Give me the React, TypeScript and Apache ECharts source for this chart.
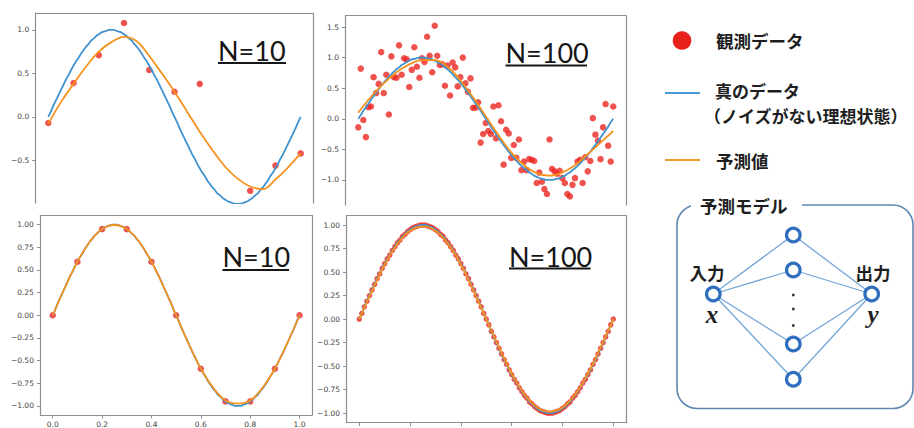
import React, { useEffect, useRef } from "react";
import * as echarts from "echarts";

// ---- sampling grids (x positions) ----
const xGrid101 = Array.from({ length: 101 }, (_, i) => i / 100);
const xGrid21 = Array.from({ length: 21 }, (_, i) => i / 20);
const xGrid11 = Array.from({ length: 11 }, (_, i) => i / 10);

// ---- true data (no noise), read at step 0.01 ----
const trueCurve = [
  0, 0.06, 0.13, 0.19, 0.25, 0.31, 0.37, 0.43, 0.48, 0.54, 0.59, 0.64, 0.68, 0.73, 0.77, 0.81, 0.84, 0.88, 0.9, 0.93, 0.95,
  0.97, 0.98, 0.99, 1.0, 1.0, 1.0, 0.99, 0.98, 0.97, 0.95, 0.93, 0.9, 0.88, 0.84, 0.81, 0.77, 0.73, 0.68, 0.64, 0.59,
  0.54, 0.48, 0.43, 0.37, 0.31, 0.25, 0.19, 0.13, 0.06, 0,
  -0.06, -0.13, -0.19, -0.25, -0.31, -0.37, -0.43, -0.48, -0.54, -0.59, -0.64, -0.68, -0.73, -0.77, -0.81, -0.84, -0.88,
  -0.9, -0.93, -0.95, -0.97, -0.98, -0.99, -1.0, -1.0, -1.0, -0.99, -0.98, -0.97, -0.95, -0.93, -0.9, -0.88, -0.84, -0.81,
  -0.77, -0.73, -0.68, -0.64, -0.59, -0.54, -0.48, -0.43, -0.37, -0.31, -0.25, -0.19, -0.13, -0.06, 0,
];

// ---- top-left: N=10, noisy ----
const observedN10Noisy = [-0.07, 0.39, 0.71, 1.08, 0.54, 0.29, 0.38, -1.12, -0.85, -0.56, -0.42];
const predictedN10Noisy = [
  -0.08, 0.17, 0.38, 0.58, 0.75, 0.86, 0.92, 0.87, 0.7, 0.5, 0.29, 0.06, -0.17, -0.38, -0.57, -0.71, -0.8, -0.83, -0.72,
  -0.58, -0.42,
];

// ---- top-right: N=100, noisy ----
const observedN100Noisy = [
  -0.14, 0.82, -0.02, -0.3, 0.19, 0.2, 0.68, 0.42, 0.57, 1.09, 0.42, 0.72, 0.07, 1.02, 0.68, 0.67, 1.2, 0.72, 0.99, 0.97,
  0.52, 0.8, 1.17, 0.85, 0.67, 0.99, 0.93, 1.34, 1.03, 0.76, 1.52, 1.03, 0.88, 0.89, 0.54, 0.87, 0.38, 0.92, 0.84, 0.53,
  0.68, 1.0, 0.58, 0.44, 0.66, 0.18, 0.18, 0.27, -0.39, -0.25, -0.07, -0.2, -0.25, 0.2, -0.32, 0.22, -0.04, -0.75, -0.18,
  -0.24, -0.64, -0.43, -0.64, -0.34, -0.84, -0.7, -0.84, -0.66, -0.67, -0.69, -1.05, -0.88, -1.03, -1.15, -1.23, -0.34,
  -0.82, -0.86, -0.9, -0.85, -0.97, -1.05, -1.23, -1.27, -1.08, -0.97, -0.7, -0.67, -1.05, -0.63, -0.86, -0.69, 0.01,
  -0.26, -0.36, -0.66, -0.14, 0.24, -0.44, -0.7, 0.2,
];
const predictedN100Noisy = [
  0.1, 0.36, 0.58, 0.76, 0.89, 0.96, 0.96, 0.85, 0.63, 0.35, 0.04, -0.27, -0.55, -0.76, -0.89, -0.93, -0.88, -0.76, -0.58,
  -0.39, -0.2,
];

// ---- bottom-left: N=10, noise-free ----
const observedN10Clean = [0, 0.59, 0.95, 0.95, 0.59, 0, -0.59, -0.95, -0.95, -0.59, 0];
const predictedN10Clean = [
  0, 0.31, 0.59, 0.81, 0.95, 0.995, 0.95, 0.81, 0.59, 0.31, 0, -0.31, -0.59, -0.8, -0.94, -0.975, -0.94, -0.8, -0.59, -0.31,
  0,
];

// ---- bottom-right: N=100, noise-free ----
const observedN100Clean = trueCurve;
const predictedN100Clean = [
  0, 0.3, 0.58, 0.8, 0.94, 0.985, 0.94, 0.8, 0.58, 0.3, 0, -0.3, -0.58, -0.8, -0.94, -0.985, -0.94, -0.8, -0.58, -0.3, 0,
];

// ---- tick labels ----
const xTickValues = [0, 0.2, 0.4, 0.6, 0.8, 1.0];
const yTicksTopLeft = [-0.5, 0, 0.5, 1.0];
const yTicksTopRight = [-1.0, -0.5, 0, 0.5, 1.0, 1.5];
const yTicksBottom = [-1.0, -0.75, -0.5, -0.25, 0, 0.25, 0.5, 0.75, 1.0];

const panelTitles = ["N=10", "N=100", "N=10", "N=100"];
const legendLabels = ["観測データ", "真のデータ", "（ノイズがない理想状態）", "予測値"];
const modelTitle = "予測モデル";

const RED = "#ec2722";
const BLUE = "#3f92cf";
const ORANGE = "#f6921e";
const AXIS = "#8f8f8f";

const pairs = (xs: number[], ys: number[]) => xs.map((x, i) => [x, ys[i]]);
const fmt = (dec: number) => (v: number) => (v < 0 ? "\u2212" : "") + Math.abs(v).toFixed(dec);

type Panel = {
  left: number; top: number; width: number; height: number;
  yMin: number; yMax: number; yTicks: number[]; dec: number;
  cut: boolean; xLabels: boolean; xTicks: boolean;
  obs: number[][]; truth: number[][]; pred: number[][]; dot: number;
};

const panels: Panel[] = [
  { left: 35.7, top: 13, width: 277.6, height: 190, yMin: -0.99, yMax: 1.195, yTicks: yTicksTopLeft, dec: 1,
    cut: true, xLabels: false, xTicks: false,
    obs: pairs(xGrid11, observedN10Noisy), truth: pairs(xGrid101, trueCurve), pred: pairs(xGrid21, predictedN10Noisy), dot: 6.5 },
  { left: 345.5, top: 15.7, width: 280.5, height: 189.3, yMin: -1.41, yMax: 1.685, yTicks: yTicksTopRight, dec: 1,
    cut: true, xLabels: false, xTicks: false,
    obs: pairs(xGrid101, observedN100Noisy), truth: pairs(xGrid101, trueCurve), pred: pairs(xGrid21, predictedN100Noisy), dot: 6.5 },
  { left: 40.4, top: 215.5, width: 271.5, height: 201.3, yMin: -1.1, yMax: 1.1, yTicks: yTicksBottom, dec: 2,
    cut: false, xLabels: true, xTicks: true,
    obs: pairs(xGrid11, observedN10Clean), truth: pairs(xGrid101, trueCurve), pred: pairs(xGrid21, predictedN10Clean), dot: 6.5 },
  { left: 346.6, top: 215.6, width: 279.4, height: 207, yMin: -1.1, yMax: 1.1, yTicks: yTicksBottom, dec: 2,
    cut: false, xLabels: false, xTicks: true,
    obs: pairs(xGrid101, observedN100Clean), truth: pairs(xGrid101, trueCurve), pred: pairs(xGrid21, predictedN100Clean), dot: 5.5 },
];

const labelFont = { fontSize: 7.5, color: "#454545", fontFamily: "DejaVu Sans" };

function buildOption() {
  const grid: any[] = [];
  const xAxis: any[] = [];
  const yAxis: any[] = [];
  const series: any[] = [];
  panels.forEach((p, i) => {
    grid.push({ left: p.left, top: p.top, width: p.width, height: p.height });
    const line = { onZero: false, lineStyle: { color: AXIS, width: 1.2 } };
    xAxis.push({
      type: "value", gridIndex: i, min: -0.05, max: 1.05, position: "bottom",
      axisLine: { show: !p.cut, ...line },
      axisTick: { show: p.xTicks, customValues: xTickValues, length: 3.5, lineStyle: { color: AXIS } },
      axisLabel: { show: p.xLabels, customValues: xTickValues, formatter: fmt(1), margin: 5, ...labelFont },
      splitLine: { show: false },
    });
    xAxis.push({
      type: "value", gridIndex: i, min: -0.05, max: 1.05, position: "top",
      axisLine: { show: true, ...line }, axisTick: { show: false }, axisLabel: { show: false }, splitLine: { show: false },
    });
    yAxis.push({
      type: "value", gridIndex: i, min: p.yMin, max: p.yMax, position: "left",
      axisLine: { show: true, ...line },
      axisTick: { show: true, customValues: p.yTicks, length: 3.5, lineStyle: { color: AXIS } },
      axisLabel: { show: true, customValues: p.yTicks, formatter: fmt(p.dec), margin: 6.5, ...labelFont },
      splitLine: { show: false },
    });
    yAxis.push({
      type: "value", gridIndex: i, min: p.yMin, max: p.yMax, position: "right",
      axisLine: { show: true, ...line }, axisTick: { show: false }, axisLabel: { show: false }, splitLine: { show: false },
    });
    series.push({
      type: "scatter", xAxisIndex: 2 * i, yAxisIndex: 2 * i, data: p.obs, symbolSize: p.dot,
      itemStyle: { color: RED }, clip: true, z: 2,
    });
    series.push({
      type: "line", xAxisIndex: 2 * i, yAxisIndex: 2 * i, data: p.truth, showSymbol: false, smooth: 0.3,
      lineStyle: { color: BLUE, width: 1.8 }, clip: true, z: 3,
    });
    series.push({
      type: "line", xAxisIndex: 2 * i, yAxisIndex: 2 * i, data: p.pred, showSymbol: false, smooth: 0.4,
      lineStyle: { color: ORANGE, width: 1.8 }, clip: true, z: 4,
    });
  });

  // panel titles "N=.." with underline
  const titlePos = [
    { x: 218, y: 50, ux2: 286, uy: 63 },
    { x: 505.5, y: 52, ux2: 587, uy: 65.5 },
    { x: 222.5, y: 256.5, ux2: 289, uy: 270 },
    { x: 509, y: 256.5, ux2: 590.5, uy: 268.5 },
  ];
  const graphic: any[] = [];
  titlePos.forEach((t, i) => {
    graphic.push({
      type: "text", x: t.x, y: t.y,
      style: { text: panelTitles[i], fontSize: 27, fontFamily: "Lato", fill: "#161616", align: "left", verticalAlign: "middle" },
    });
    graphic.push({ type: "line", shape: { x1: t.x, y1: t.uy, x2: t.ux2, y2: t.uy }, style: { stroke: "#161616", lineWidth: 2 } });
  });

  // legend
  const jp = { fontFamily: "Noto Sans CJK JP", fontWeight: "bold", fill: "#1e1e1e", fontSize: 17.5, align: "left", verticalAlign: "middle" };
  graphic.push({ type: "circle", shape: { cx: 682, cy: 40.5, r: 9.3 }, style: { fill: "#e8211d" } });
  graphic.push({ type: "text", x: 716, y: 40.5, style: { text: legendLabels[0], ...jp } });
  graphic.push({ type: "line", shape: { x1: 665, y1: 93, x2: 700, y2: 93 }, style: { stroke: "#4a9ad6", lineWidth: 2 } });
  graphic.push({ type: "text", x: 715, y: 90, style: { text: legendLabels[1], ...jp, fontSize: 17 } });
  graphic.push({ type: "text", x: 704, y: 115, style: { text: legendLabels[2], ...jp, fontSize: 17 } });
  graphic.push({ type: "line", shape: { x1: 665, y1: 160, x2: 700, y2: 160 }, style: { stroke: "#f59a2e", lineWidth: 2 } });
  graphic.push({ type: "text", x: 716, y: 160, style: { text: legendLabels[3], ...jp } });

  // model diagram
  graphic.push({
    type: "rect", z: 1, shape: { x: 677, y: 205, width: 236, height: 203.5, r: 20 },
    style: { fill: "rgba(0,0,0,0)", stroke: "#5f86b0", lineWidth: 1.6 },
  });
  graphic.push({ type: "rect", z: 2, shape: { x: 691, y: 196, width: 111, height: 18 }, style: { fill: "#ffffff" } });
  graphic.push({ type: "text", z: 3, x: 700, y: 205, style: { text: modelTitle, ...jp } });

  const inNode = { x: 713.3, y: 294 };
  const outNode = { x: 871.7, y: 294 };
  const hidden = [235, 270, 344, 379.3].map((y) => ({ x: 793.3, y }));
  const edge = { stroke: "#74a6d8", lineWidth: 1.3 };
  hidden.forEach((h) => {
    graphic.push({ type: "line", z: 1, shape: { x1: inNode.x, y1: inNode.y, x2: h.x, y2: h.y }, style: edge });
    graphic.push({ type: "line", z: 1, shape: { x1: h.x, y1: h.y, x2: outNode.x, y2: outNode.y }, style: edge });
  });
  const node = { fill: "#ffffff", stroke: "#2f6fbd", lineWidth: 3.2 };
  [inNode, outNode, ...hidden].forEach((n) => {
    graphic.push({ type: "circle", z: 4, shape: { cx: n.x, cy: n.y, r: 6.8 }, style: node });
  });
  [295, 309, 325.5].forEach((y) => {
    graphic.push({ type: "circle", z: 4, shape: { cx: 793.3, cy: y, r: 1.4 }, style: { fill: "#333333" } });
  });
  graphic.push({ type: "text", x: 707, y: 272, style: { text: "入力", ...jp, align: "center" } });
  graphic.push({ type: "text", x: 873, y: 272, style: { text: "出力", ...jp, align: "center" } });
  const varStyle = {
    fontFamily: "Liberation Serif", fontStyle: "italic", fontWeight: "bold", fontSize: 25, fill: "#1e1e1e",
    align: "center", verticalAlign: "middle",
  };
  graphic.push({ type: "text", x: 712, y: 314, style: { text: "x", ...varStyle } });
  graphic.push({ type: "text", x: 873, y: 314, style: { text: "y", ...varStyle } });

  return { animation: false, backgroundColor: "#ffffff", grid, xAxis, yAxis, series, graphic };
}

export default function App() {
  const ref = useRef<HTMLDivElement>(null);
  useEffect(() => {
    if (!ref.current) return;
    const chart = echarts.init(ref.current, undefined, { renderer: "svg" });
    chart.setOption(buildOption() as any);
    return () => chart.dispose();
  }, []);
  return <div ref={ref} style={{ position: "absolute", left: 0, top: 0, width: 914, height: 428 }} />;
}
